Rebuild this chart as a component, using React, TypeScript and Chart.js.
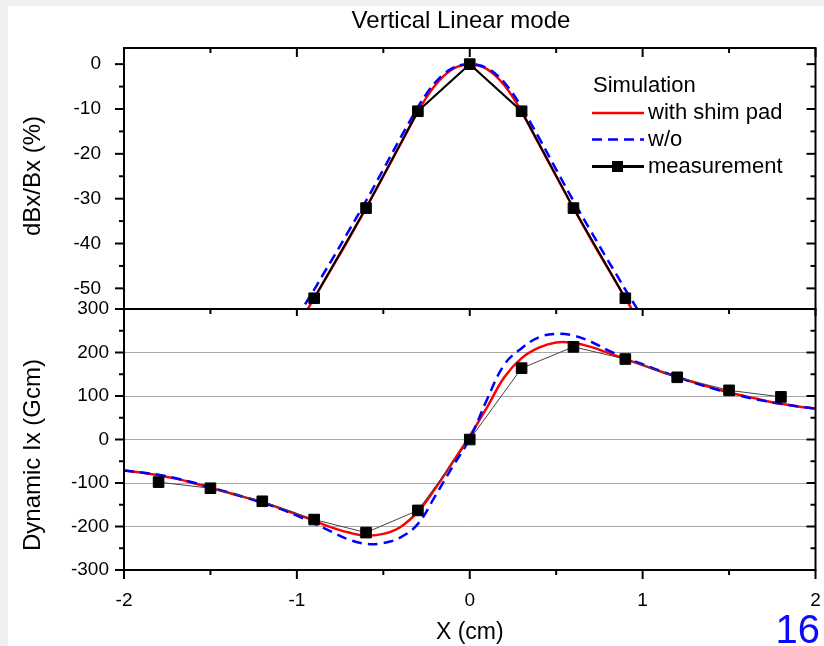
import React, { useEffect, useRef } from "react";
import { Chart, registerables } from "chart.js";

Chart.register(...registerables);

// ---------- data ----------
const simXTop = [-1, -0.95, -0.9, -0.85, -0.8, -0.7, -0.6, -0.5, -0.4, -0.3, -0.25, -0.2, -0.15, -0.1, -0.05, 0, 0.05, 0.1, 0.15, 0.2, 0.25, 0.3, 0.4, 0.5, 0.6, 0.7, 0.8, 0.85, 0.9, 0.95, 1];
const shimTop = [-58.6, -55.4, -52.2, -48.9, -45.6, -39.0, -32.1, -25.0, -17.8, -10.6, -7.4, -4.7, -2.6, -1.1, -0.3, 0, -0.3, -1.1, -2.6, -4.7, -7.4, -10.6, -17.8, -25.0, -32.1, -39.0, -45.6, -48.9, -52.2, -55.4, -58.6];
const woTop = [-56.6, -53.4, -50.3, -47.0, -43.8, -37.2, -30.5, -23.5, -16.4, -9.6, -6.6, -4.1, -2.2, -0.9, -0.2, 0, -0.2, -0.9, -2.2, -4.1, -6.6, -9.6, -16.4, -23.5, -30.5, -37.2, -43.8, -47.0, -50.3, -53.4, -56.6];
const measXTop = [-0.9, -0.6, -0.3, 0, 0.3, 0.6, 0.9];
const measTop = [-52.2, -32.1, -10.5, 0, -10.5, -32.1, -52.2];

const simXBot = [-2, -1.9, -1.8, -1.7, -1.6, -1.5, -1.4, -1.3, -1.2, -1.1, -1, -0.9, -0.8, -0.7, -0.6, -0.5, -0.4, -0.3, -0.2, -0.1, 0, 0.1, 0.2, 0.3, 0.4, 0.5, 0.6, 0.7, 0.8, 0.9, 1, 1.1, 1.2, 1.3, 1.4, 1.5, 1.6, 1.7, 1.8, 1.9, 2];
const shimBot = [-71, -76, -82, -90, -100, -111, -122, -133, -144, -158, -172, -187, -202, -214, -221, -217, -201, -166, -113, -53, 8, 74, 143, 187, 211, 223, 222, 213, 199, 185, 171, 157, 144, 131, 119, 108, 99, 90, 82, 76, 71];
const woBot = [-71, -76, -81, -89, -99, -110, -121, -133, -145, -159, -175, -193, -212, -230, -240, -238, -225, -194, -130, -63, 2, 92, 172, 210, 235, 243, 239, 225, 205, 188, 173, 158, 144, 130, 118, 107, 97, 89, 82, 76, 71];
const measXBot = [-1.8, -1.5, -1.2, -0.9, -0.6, -0.3, 0, 0.3, 0.6, 0.9, 1.2, 1.5, 1.8];
const measBot = [-98, -112, -142, -184, -214, -163, 0, 164, 213, 185, 143, 113, 98];

const xTicks = [-2, -1, 0, 1, 2];
const xMinor = [-1.5, -0.5, 0.5, 1.5];
const topTicks = [-50, -40, -30, -20, -10, 0];
const topMinor = [-45, -35, -25, -15, -5];
const botTicks = [-300, -200, -100, 0, 100, 200, 300];
const botMinor = [-250, -150, -50, 50, 150, 250];

const chartTitle = "Vertical Linear mode";
const xTitle = "X (cm)";
const yTopTitle = "dBx/Bx (%)";
const yBotTitle = "Dynamic Ix (Gcm)";
const legendHeader = "Simulation";
const seriesNames = ["with shim pad", "w/o", "measurement"];
const pageNumber = "16";

const FONT = 'Arial, "Liberation Sans", Helvetica, sans-serif';
const RED = "#ff0000";
const BLUE = "#0000ff";

const pts = (xs: number[], ys: number[]) => xs.map((x, i) => ({ x, y: ys[i] }));

const decorPlugin = {
  id: "decor",
  beforeDraw(chart: any) {
    const { ctx, width, height } = chart;
    ctx.save();
    ctx.fillStyle = "#efefef";
    ctx.fillRect(0, 0, width, height);
    ctx.fillStyle = "#ffffff";
    ctx.fillRect(8, 6, width - 8, height - 6);
    ctx.restore();
  },
  beforeDatasetDraw(chart: any, args: any) {
    const ys = args.meta.yScale;
    const ca = chart.chartArea;
    const ctx = chart.ctx;
    ctx.save();
    ctx.beginPath();
    ctx.rect(ca.left, ys.top, ca.right - ca.left, ys.bottom - ys.top);
    ctx.clip();
  },
  afterDatasetDraw(chart: any) {
    chart.ctx.restore();
  },
  afterDraw(chart: any) {
    const { ctx, chartArea: ca } = chart;
    const xs = chart.scales.x;
    const yt = chart.scales.yTop;
    const yb = chart.scales.yBot;
    const L = ca.left, R = ca.right;
    const mid = yt.bottom;
    ctx.save();
    ctx.strokeStyle = "#000";
    ctx.lineWidth = 2;
    ctx.lineCap = "butt";
    ctx.strokeRect(L, yt.top, R - L, yt.bottom - yt.top);
    ctx.strokeRect(L, yb.top, R - L, yb.bottom - yb.top);
    const MAJ = 9, MIN = 5;
    const line = (x1: number, y1: number, x2: number, y2: number) => {
      ctx.beginPath();
      ctx.moveTo(x1, y1);
      ctx.lineTo(x2, y2);
      ctx.stroke();
    };
    for (const v of xTicks) {
      const p = xs.getPixelForValue(v);
      line(p, yt.top, p, yt.top + MAJ);
      line(p, mid, p, mid + MAJ - 2);
      line(p, yb.bottom, p, yb.bottom + MAJ);
    }
    for (const v of xMinor) {
      const p = xs.getPixelForValue(v);
      line(p, yt.top, p, yt.top + MIN);
      line(p, mid, p, mid + MIN);
      line(p, yb.bottom, p, yb.bottom + MIN);
    }
    const yTicks = (scale: any, major: number[], minor: number[]) => {
      for (const v of major) {
        const p = scale.getPixelForValue(v);
        line(L - MAJ, p, L, p);
        line(R - MAJ, p, R, p);
      }
      for (const v of minor) {
        const p = scale.getPixelForValue(v);
        line(L - MIN, p, L, p);
        line(R - MIN, p, R, p);
      }
    };
    yTicks(yt, topTicks, topMinor);
    yTicks(yb, botTicks, botMinor);

    ctx.fillStyle = "#000";
    ctx.textBaseline = "middle";
    ctx.textAlign = "center";
    ctx.font = `24px ${FONT}`;
    ctx.fillText(chartTitle, 461, 21);
    ctx.font = `23px ${FONT}`;
    ctx.fillText(xTitle, (L + R) / 2, 633);
    const vtext = (t: string, x: number, y: number) => {
      ctx.save();
      ctx.translate(x, y);
      ctx.rotate(-Math.PI / 2);
      ctx.fillText(t, 0, 0);
      ctx.restore();
    };
    ctx.font = `24px ${FONT}`;
    vtext(yTopTitle, 33, 176);
    vtext(yBotTitle, 33, 455);

    ctx.textAlign = "left";
    ctx.font = `22px ${FONT}`;
    ctx.fillText(legendHeader, 593, 86);
    const lx1 = 592, lx2 = 644, tx = 648;
    const rows = [113, 139.5, 166.5];
    ctx.lineWidth = 2.5;
    ctx.strokeStyle = RED;
    line(lx1, rows[0], lx2, rows[0]);
    ctx.strokeStyle = BLUE;
    ctx.setLineDash([10, 6]);
    line(lx1, rows[1], lx2, rows[1]);
    ctx.setLineDash([]);
    ctx.strokeStyle = "#000";
    ctx.lineWidth = 3;
    line(lx1, rows[2], lx2, rows[2]);
    ctx.fillStyle = "#000";
    ctx.fillRect(612, rows[2] - 5.5, 11, 11);
    seriesNames.forEach((n, i) => ctx.fillText(n, tx, rows[i]));

    ctx.fillStyle = "#0a0aff";
    ctx.textAlign = "right";
    ctx.textBaseline = "alphabetic";
    ctx.font = `40px ${FONT}`;
    ctx.fillText(pageNumber, 820, 643);
    ctx.restore();
  },
};

export default function App() {
  const ref = useRef<HTMLCanvasElement>(null);
  useEffect(() => {
    const tickFont = { family: FONT, size: 19 };
    const simStyle = (color: string, dash: number[]) => ({
      borderColor: color,
      borderWidth: 2.5,
      borderDash: dash,
      pointRadius: 0,
      tension: 0.4,
    });
    const chart = new Chart(ref.current as HTMLCanvasElement, {
      type: "line",
      data: {
        datasets: [
          {
            label: seriesNames[2] + " top",
            data: pts(measXTop, measTop),
            yAxisID: "yTop",
            borderColor: "#000",
            backgroundColor: "#000",
            borderWidth: 2,
            pointStyle: "rect",
            pointRadius: 7.5,
            pointBorderWidth: 1,
            order: 0,
          },
          { label: seriesNames[1] + " top", data: pts(simXTop, woTop), yAxisID: "yTop", ...simStyle(BLUE, [10, 6]), order: 1 },
          { label: seriesNames[0] + " top", data: pts(simXTop, shimTop), yAxisID: "yTop", ...simStyle(RED, []), order: 2 },
          {
            label: seriesNames[2],
            data: pts(measXBot, measBot),
            yAxisID: "yBot",
            borderColor: "#444",
            backgroundColor: "#000",
            pointBackgroundColor: "#000",
            pointBorderColor: "#000",
            borderWidth: 1,
            pointStyle: "rect",
            pointRadius: 7.5,
            pointBorderWidth: 1,
            order: 0,
          },
          { label: seriesNames[1], data: pts(simXBot, woBot), yAxisID: "yBot", ...simStyle(BLUE, [10, 6]), order: 1 },
          { label: seriesNames[0], data: pts(simXBot, shimBot), yAxisID: "yBot", ...simStyle(RED, []), order: 2 },
        ] as any,
      },
      options: {
        animation: false,
        responsive: false,
        devicePixelRatio: 1,
        layout: { padding: { left: 0, right: 6, top: 48, bottom: 0 } },
        plugins: {
          legend: { display: false },
          tooltip: { enabled: false },
          title: { display: false },
        },
        scales: {
          x: {
            type: "linear",
            min: -2,
            max: 2,
            afterBuildTicks: (s: any) => {
              s.ticks = xTicks.map((v) => ({ value: v }));
            },
            afterFit: (s: any) => {
              s.height = 76;
              s.paddingLeft = 0;
              s.paddingRight = 0;
            },
            grid: { display: false },
            border: { display: false },
            ticks: { font: tickFont, color: "#000", padding: 11, maxRotation: 0, autoSkip: false },
          },
          yBot: {
            type: "linear",
            position: "left",
            stack: "panels",
            stackWeight: 1,
            min: -300,
            max: 300,
            afterBuildTicks: (s: any) => {
              s.ticks = botTicks.map((v) => ({ value: v }));
            },
            afterFit: (s: any) => {
              s.width = 124;
              s.paddingTop = 0;
              s.paddingBottom = 0;
            },
            grid: {
              display: true,
              drawTicks: false,
              lineWidth: 1,
              color: (c: any) => (c.tick && Math.abs(c.tick.value) < 300 ? "#a8a8a8" : "rgba(0,0,0,0)"),
            },
            border: { display: false },
            ticks: { font: tickFont, color: "#000", padding: 15, autoSkip: false },
          },
          yTop: {
            type: "linear",
            position: "left",
            stack: "panels",
            stackWeight: 1,
            min: -54.6,
            max: 3.6,
            afterBuildTicks: (s: any) => {
              s.ticks = topTicks.map((v) => ({ value: v }));
            },
            afterFit: (s: any) => {
              s.width = 124;
              s.paddingTop = 0;
              s.paddingBottom = 0;
            },
            grid: { display: false },
            border: { display: false },
            ticks: { font: tickFont, color: "#000", padding: 15, autoSkip: false },
          },
        } as any,
      },
      plugins: [decorPlugin],
    } as any);
    return () => chart.destroy();
  }, []);
  return (
    <div style={{ position: "fixed", left: 0, top: 0, width: 824, height: 646, background: "#fff" }}>
      <canvas ref={ref} width={824} height={646} style={{ display: "block", width: 824, height: 646 }} />
    </div>
  );
}
